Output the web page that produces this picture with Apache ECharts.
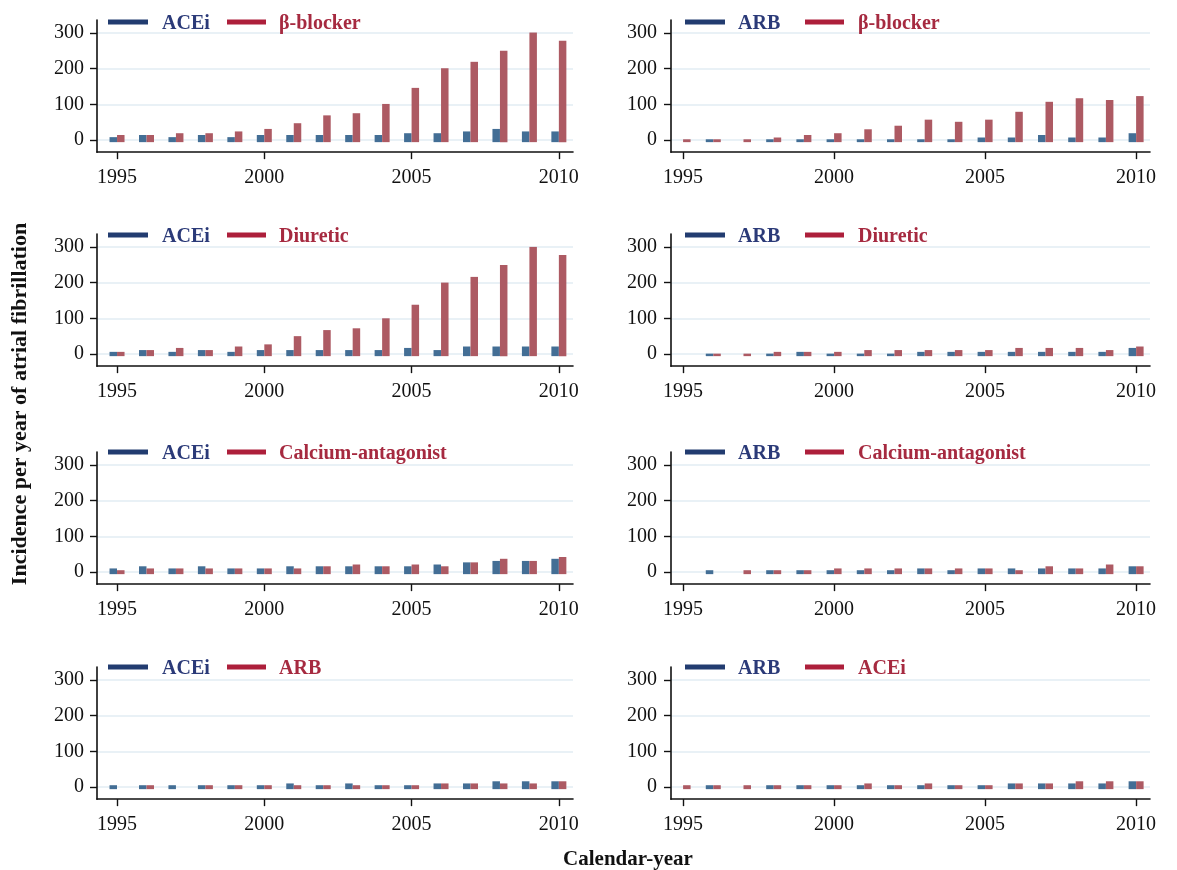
<!DOCTYPE html>
<html>
<head>
<meta charset="utf-8">
<script src="https://cdn.jsdelivr.net/npm/echarts@6/dist/echarts.min.js"></script>
<style>
html,body{margin:0;padding:0;background:#fff;}
#chart{width:1177px;height:870px;}
</style>
</head>
<body>
<div id="chart"></div>
<script>
// ---------- data ----------
const years = [1995,1996,1997,1998,1999,2000,2001,2002,2003,2004,2005,2006,2007,2008,2009,2010];
const xTickLabels = [1995, 2000, 2005, 2010];
const yTickLabels = [0, 100, 200, 300];

// panel 1: ACEi vs β-blocker
const p1ACEi      = [8,14,8,14,8,14,14,14,14,14,19,19,24,31,24,24];
const p1BetaBlock = [14,14,19,19,24,31,47,69,75,101,146,201,219,250,301,278];
// panel 2: ARB vs β-blocker
const p2ARB       = [null,2,null,2,2,2,2,2,2,2,7,7,14,7,7,19];
const p2BetaBlock = [2,2,2,7,14,19,30,40,57,51,57,79,107,117,112,123];
// panel 3: ACEi vs Diuretic
const p3ACEi      = [6,11,6,11,6,11,11,11,11,11,17,11,21,21,21,21];
const p3Diuretic  = [6,11,17,11,21,27,50,67,72,100,138,200,216,249,300,277];
// panel 4: ARB vs Diuretic
const p4ARB       = [null,1,null,1,6,1,1,1,6,6,6,6,6,6,6,17];
const p4Diuretic  = [null,1,1,6,6,6,11,11,11,11,11,17,17,17,11,21];
// panel 5: ACEi vs Calcium-antagonist
const p5ACEi      = [10,16,10,16,10,10,16,16,16,16,16,21,27,31,31,37];
const p5CaAnt     = [5,10,10,10,10,10,10,16,21,16,21,16,27,37,31,42];
// panel 6: ARB vs Calcium-antagonist
const p6ARB       = [null,5,null,5,5,5,5,5,10,5,10,10,10,10,10,16];
const p6CaAnt     = [null,null,5,5,5,10,10,10,10,10,10,5,16,10,21,16];
// panel 7: ACEi vs ARB
const p7ACEi      = [5,5,5,5,5,5,10,5,10,5,5,10,10,16,16,16];
const p7ARB       = [null,5,null,5,5,5,5,5,5,5,5,10,10,10,10,16];
// panel 8: ARB vs ACEi
const p8ARB       = [null,5,null,5,5,5,5,5,5,5,5,10,10,10,10,16];
const p8ACEi      = [5,5,5,5,5,5,10,5,10,5,5,10,10,16,16,16];

const panelBlueNames = ['ACEi','ARB','ACEi','ARB','ACEi','ARB','ACEi','ARB'];
const panelRedNames  = ['β-blocker','β-blocker','Diuretic','Diuretic','Calcium-antagonist','Calcium-antagonist','ARB','ACEi'];
const panelBlueData  = [p1ACEi,p2ARB,p3ACEi,p4ARB,p5ACEi,p6ARB,p7ACEi,p8ARB];
const panelRedData   = [p1BetaBlock,p2BetaBlock,p3Diuretic,p4Diuretic,p5CaAnt,p6CaAnt,p7ARB,p8ACEi];

const yAxisTitle = 'Incidence per year of atrial fibrillation';
const xAxisTitle = 'Calendar-year';

// ---------- styling / layout ----------
const FONT = '"Liberation Serif","Times New Roman",serif';
const BAR_BLUE = '#436e95';
const BAR_RED = '#ad5a63';
const LEG_BLUE_LINE = '#223c70';
const LEG_RED_LINE = '#ad1f3b';
const LEG_BLUE_TEXT = '#2b3a78';
const LEG_RED_TEXT = '#a62a40';
const GRIDLINE = '#e2edf3';
const BAR_W = 7.5;
const BAR_BASE = -6;
const Y_MIN = -34, Y_MAX = 336;

const rowZero = [140, 354, 572, 787];
const colLeft = [97, 671];
const colWidth = [476, 479];
const colXRange = [[1994.32, 2010.48], [1994.6, 2010.46]];
const pxPerUnit = 0.357;

const grids = [], xAxes = [], yAxes = [], series = [], graphics = [];

function renderFactory(side, color) {
  return function (params, api) {
    const x = api.value(0), v = api.value(1);
    if (isNaN(v)) return null;
    const top = api.coord([x, v]);
    const base = api.coord([x, BAR_BASE]);
    return {
      type: 'rect',
      shape: { x: side < 0 ? top[0] - BAR_W : top[0], y: top[1], width: BAR_W, height: base[1] - top[1] },
      style: { fill: color }
    };
  };
}

for (let i = 0; i < 8; i++) {
  const row = Math.floor(i / 2), col = i % 2;
  const top = rowZero[row] - Y_MAX * pxPerUnit;
  const height = (Y_MAX - Y_MIN) * pxPerUnit;
  grids.push({ left: colLeft[col], top: top, width: colWidth[col], height: height, containLabel: false });
  xAxes.push({
    type: 'value', gridIndex: i, min: colXRange[col][0], max: colXRange[col][1],
    axisLine: { show: true, onZero: false, lineStyle: { color: '#111', width: 1.6 } },
    axisTick: { show: true, length: 7, customValues: xTickLabels, lineStyle: { color: '#111', width: 1.4 } },
    axisLabel: { show: true, customValues: xTickLabels, margin: 16, fontFamily: FONT, fontSize: 20, color: '#111', formatter: v => String(v) },
    splitLine: { show: false }
  });
  yAxes.push({
    type: 'value', gridIndex: i, min: Y_MIN, max: Y_MAX,
    axisLine: { show: true, lineStyle: { color: '#111', width: 1.6 } },
    axisTick: { show: true, length: 7, customValues: yTickLabels, lineStyle: { color: '#111', width: 1.4 } },
    axisLabel: { show: true, customValues: yTickLabels, margin: col === 0 ? 13 : 14, fontFamily: FONT, fontSize: 20, color: '#111' },
    splitLine: { show: true, lineStyle: { color: GRIDLINE, width: 1.5 } }
  });
  const blue = panelBlueData[i], red = panelRedData[i];
  series.push({
    type: 'custom', name: panelBlueNames[i], xAxisIndex: i, yAxisIndex: i,
    renderItem: renderFactory(-1, BAR_BLUE), encode: { x: 0, y: 1 },
    data: years.map((y, k) => [y, blue[k]]).filter(d => d[1] !== null),
    silent: true, clip: false
  });
  series.push({
    type: 'custom', name: panelRedNames[i], xAxisIndex: i, yAxisIndex: i,
    renderItem: renderFactory(1, BAR_RED), encode: { x: 0, y: 1 },
    data: years.map((y, k) => [y, red[k]]).filter(d => d[1] !== null),
    silent: true, clip: false
  });

  // legend (drawn as graphic line + text)
  const ly = [22, 235, 452, 667][row];
  const lx = col === 0 ? [108, 162, 227, 279] : [685, 738, 805, 858];
  graphics.push({ type: 'rect', shape: { x: lx[0], y: ly - 2.5, width: 40, height: 5 }, style: { fill: LEG_BLUE_LINE }, z: 100 });
  graphics.push({ type: 'text', x: lx[1], y: ly + 2, style: { text: panelBlueNames[i], fill: LEG_BLUE_TEXT, font: 'bold 20px ' + FONT, textVerticalAlign: 'middle', textAlign: 'left' }, z: 100 });
  graphics.push({ type: 'rect', shape: { x: lx[2], y: ly - 2.5, width: 39, height: 5 }, style: { fill: LEG_RED_LINE }, z: 100 });
  graphics.push({ type: 'text', x: lx[3], y: ly + 2, style: { text: panelRedNames[i], fill: LEG_RED_TEXT, font: 'bold 20px ' + FONT, textVerticalAlign: 'middle', textAlign: 'left' }, z: 100 });
}

graphics.push({ type: 'text', x: 20, y: 404, rotation: Math.PI / 2, style: { text: yAxisTitle, fill: '#111', font: 'bold 22px ' + FONT, textAlign: 'center', textVerticalAlign: 'middle' } });
graphics.push({ type: 'text', x: 628, y: 860, style: { text: xAxisTitle, fill: '#111', font: 'bold 21px ' + FONT, textAlign: 'center', textVerticalAlign: 'middle' } });

const chart = echarts.init(document.getElementById('chart'), null, { renderer: 'canvas' });
chart.setOption({
  animation: false,
  backgroundColor: '#fff',
  grid: grids, xAxis: xAxes, yAxis: yAxes, series: series,
  graphic: { elements: graphics }
});
</script>
</body>
</html>
